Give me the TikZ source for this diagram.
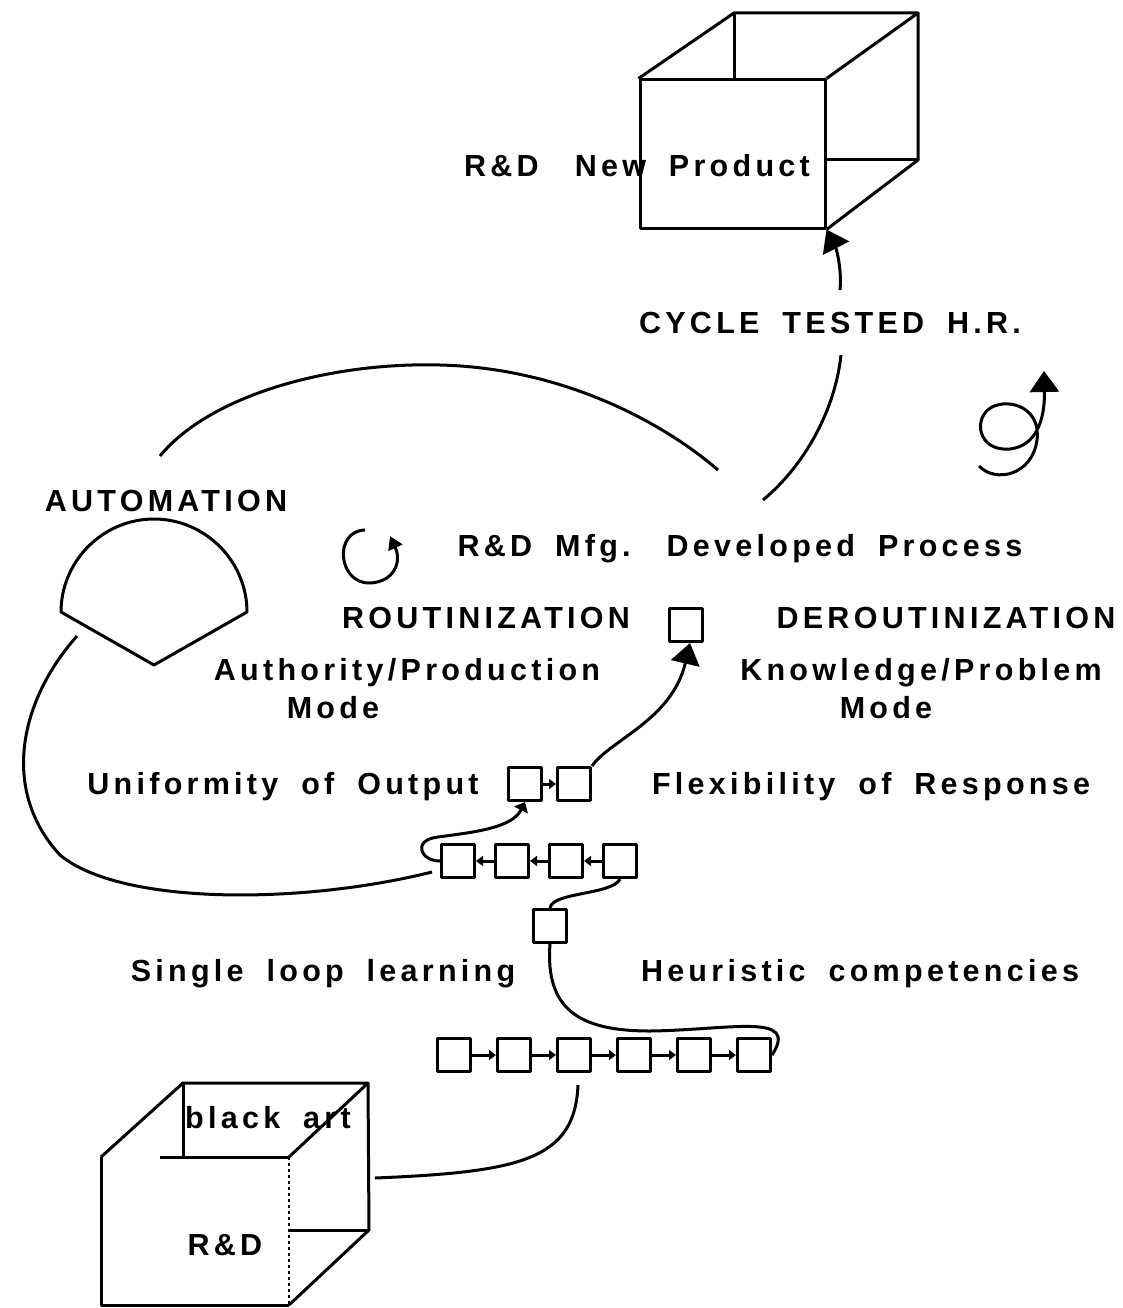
\documentclass[tikz,border=0pt]{standalone}
\usepackage{fontspec}
\newfontfamily\drawfont{Liberation Sans}[LetterSpace=14, WordSpace=1.8]
\usepackage{tikz}
\usetikzlibrary{arrows.meta, positioning}

\begin{document}
\begin{tikzpicture}[
    x=1pt, y=-1pt,
    line width=3pt,
    line join=round,
    cell/.style={rectangle, draw, inner sep=0pt, minimum size=33pt},
    face/.style={rectangle, draw, inner sep=0pt},
    txt/.style={font=\drawfont\bfseries\fontsize{30.5}{36}\selectfont, inner sep=0pt, anchor=base},
    bigarrow/.style={-{Triangle[length=21pt, width=29pt]}},
    midarrow/.style={-{Triangle[length=9pt, width=15pt]}},
    smallarrow/.style={-{Triangle[length=13pt, width=15pt]}},
    chainarrow/.style={-{Triangle[length=7pt, width=10pt]}}
]
\useasboundingbox (0,0) rectangle (1122,1308);

% New product cube
\node [face, minimum width=185pt, minimum height=148pt] (prodface) at (732.5,154) {};
\coordinate (pbtl) at (734,13);
\coordinate (pbtr) at (918,13);
\coordinate (pbbr) at (918,160);
\draw (prodface.north west) -- (pbtl) -- (pbtr) -- (prodface.north east);
\draw (pbtr) -- (pbbr) -- (prodface.south east);
\draw (pbtl) -- (pbtl |- prodface.north);
\draw (pbbr) -- (pbbr -| prodface.east);
\node [txt] (newprod) at (637,177) {R\&D\hspace{36pt}New Product};

% Black art cube
\coordinate (rftl) at (101,1157);
\coordinate (rftr) at (289,1157);
\coordinate (rfbr) at (289,1305);
\coordinate (rfbl) at (101,1305);
\coordinate (rbtl) at (183,1083);
\coordinate (rbtr) at (368,1083);
\coordinate (rbbr) at (369,1230);
\draw (rftl) -- (rfbl) -- (rfbr);
\draw (160,1157) -- (rftr);
\draw [dashed, line width=1.6pt] (rftr) -- (rfbr);
\draw (rftl) -- (rbtl) -- (rbtr) -- (rftr);
\draw (rbtr) -- (rbbr) -- (rfbr);
\draw (rbtl) -- (rbtl |- rftl);
\draw (rbbr) -- (rbbr -| rftr);
\node [txt] (blackart) at (268,1128) {black art};
\node [txt] (rdlabel) at (225,1255) {R\&D};

% Automation shape
\draw (61,612) .. controls (61,561) and (103,519) .. (154,519) .. controls (205,519) and (247,561) .. (247,612) -- (154,665) -- cycle;
\node [txt] (automation) at (166,511) {AUTOMATION};

% Labels
\node [txt] (cycle) at (830,333) {CYCLE TESTED H.R.};
\node [txt] (mfg) at (740,556) {R\&D Mfg.\hspace{36pt}Developed Process};
\node [txt] (rout) at (486,628) {ROUTINIZATION};
\node [txt] (derout) at (946,628) {DEROUTINIZATION};
\node [txt] (authority) at (407,680) {Authority/Production};
\node [txt] (authmode) at (333,718) {Mode};
\node [txt] (knowledge) at (921,680) {Knowledge/Problem};
\node [txt] (knowmode) at (886,718) {Mode};
\node [txt] (uniform) at (283,794) {Uniformity of Output};
\node [txt] (flex) at (871,794) {Flexibility of Response};
\node [txt] (single) at (323,981) {Single loop learning};
\node [txt] (heur) at (860,981) {Heuristic competencies};

% Routinization box and upper pair
\node [cell] (rbox) at (686,625) {};
\node [cell] (up1) at (525,784) {};
\node [cell, right=13pt of up1] (up2) {};

% Middle row
\node [cell] (mid1) at (458,861) {};
\node [cell, right=18pt of mid1] (mid2) {};
\node [cell, right=18pt of mid2] (mid3) {};
\node [cell, right=18pt of mid3] (mid4) {};
\node [cell] (link) at (550,926) {};

% Lower row
\node [cell] (low1) at (454,1055) {};
\node [cell, right=24pt of low1] (low2) {};
\node [cell, right=24pt of low2] (low3) {};
\node [cell, right=24pt of low3] (low4) {};
\node [cell, right=24pt of low4] (low5) {};
\node [cell, right=24pt of low5] (low6) {};

% Free ends
\coordinate (cyclestart) at (840,290);
\coordinate (hrstart) at (763,500);
\coordinate (hrend) at (841,355);
\coordinate (arcstart) at (160,456);
\coordinate (arcend) at (718,470);
\coordinate (mfgloop) at (365,530);
\coordinate (spiraltail) at (979,466);
\coordinate (autotail) at (77,636);
\coordinate (looptail) at (432,872);
\coordinate (lowtail) at (578,1085);
\coordinate (rdtail) at (375,1178);

% Chain arrows
\draw [chainarrow] (up1) -- (up2);
\draw [chainarrow] (mid4) -- (mid3);
\draw [chainarrow] (mid3) -- (mid2);
\draw [chainarrow] (mid2) -- (mid1);
\draw [chainarrow] (low1) -- (low2);
\draw [chainarrow] (low2) -- (low3);
\draw [chainarrow] (low3) -- (low4);
\draw [chainarrow] (low4) -- (low5);
\draw [chainarrow] (low5) -- (low6);

% Curved links
\draw [bigarrow] (cyclestart) .. controls (842,268) and (836,248) .. (prodface.south east);
\draw (hrstart) .. controls (805,465) and (835,410) .. (hrend);
\draw (arcstart) .. controls (210,395) and (330,362) .. (440,365) .. controls (560,368) and (660,420) .. (arcend);
\draw [smallarrow] (mfgloop) .. controls (333,531) and (338,584) .. (370,583) .. controls (394,582) and (402,562) .. (390,536);
\draw [bigarrow] (spiraltail) .. controls (995,483) and (1032,476) .. (1037,440) .. controls (1041,408) and (1010,398) .. (992,407) .. controls (972,418) and (978,452) .. (1010,449) .. controls (1036,446) and (1045,420) .. (1044,371);
\draw [bigarrow] (up2.north east) .. controls (610,740) and (672,720) .. ([xshift=4pt]rbox.south);
\draw [midarrow] (mid1.west) .. controls (420,861) and (412,840) .. (438,837) .. controls (475,832) and (512,828) .. (up1.south);
\draw (autotail) .. controls (20,700) and (0,790) .. (60,855) .. controls (120,905) and (300,905) .. (looptail);
\draw (mid4.south) .. controls (612,895) and (552,892) .. (link.north);
\draw (link.south) .. controls (545,1010) and (580,1031) .. (650,1031) .. controls (730,1030) and (800,1012) .. (low6.east);
\draw (lowtail) .. controls (575,1160) and (520,1172) .. (rdtail);

\end{tikzpicture}
\end{document}
